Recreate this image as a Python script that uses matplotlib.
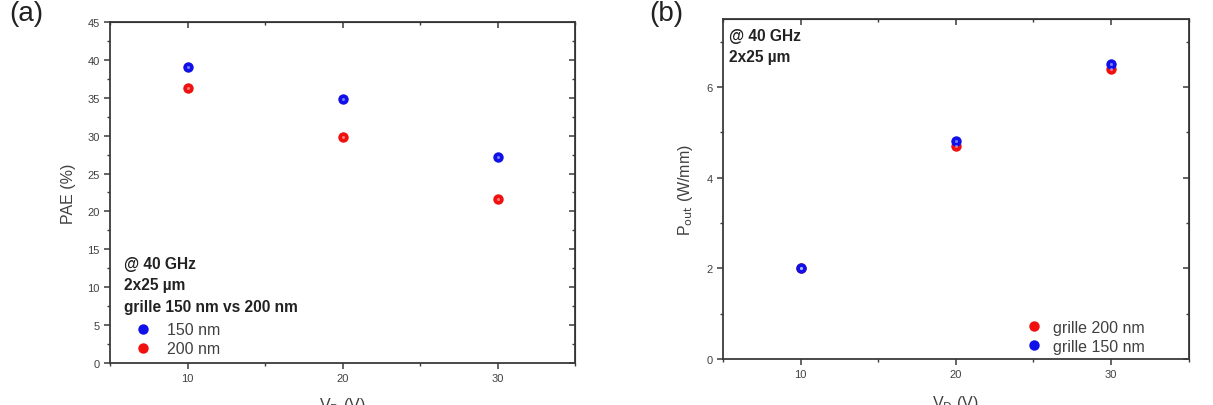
import matplotlib.pyplot as plt
from matplotlib.ticker import MultipleLocator

plt.rcParams['font.family'] = ['Liberation Sans', 'DejaVu Sans']

# donnees
vds = [10, 20, 30]
pae_150 = [39.1, 34.8, 27.2]
pae_200 = [36.3, 29.8, 21.6]
pout_200 = [2.0, 4.7, 6.4]
pout_150 = [2.0, 4.8, 6.5]

GREY = '#3a3a3a'
TXT = '#404040'


def sphere(ax, x, y, color, label=None):
    ax.plot(x, y, 'o', color=color, markersize=7.5, markeredgewidth=0, label=label, zorder=3)
    ax.plot(x, y, 'o', color='white', alpha=0.45, markersize=2.2, markeredgewidth=0, zorder=4)


def style(ax, ymax, ymaj, ymin):
    ax.set_xlim(5, 35)
    ax.set_ylim(0, ymax)
    ax.xaxis.set_major_locator(MultipleLocator(10))
    ax.xaxis.set_minor_locator(MultipleLocator(5))
    ax.yaxis.set_major_locator(MultipleLocator(ymaj))
    ax.yaxis.set_minor_locator(MultipleLocator(ymin))
    for s in ax.spines.values():
        s.set_color(GREY)
        s.set_linewidth(1.3)
    ax.tick_params(which='both', direction='out', colors=GREY, labelcolor=TXT, labelsize=8)
    ax.tick_params(which='major', length=4, width=1.1)
    ax.tick_params(which='minor', length=2.5, width=1.0)
    # ticks interieurs en haut et a droite (style Origin)
    top = ax.secondary_xaxis('top')
    top.xaxis.set_major_locator(MultipleLocator(10))
    top.xaxis.set_minor_locator(MultipleLocator(5))
    top.tick_params(which='both', direction='in', colors=GREY, labeltop=False)
    right = ax.secondary_yaxis('right')
    right.yaxis.set_major_locator(MultipleLocator(ymaj))
    right.yaxis.set_minor_locator(MultipleLocator(ymin))
    right.tick_params(which='both', direction='in', colors=GREY, labelright=False)
    for sec in (top, right):
        sec.tick_params(which='major', length=4, width=1.1)
        sec.tick_params(which='minor', length=2.5, width=1.0)


def legend(ax, x, y, pad):
    leg = ax.legend(loc='center left', bbox_to_anchor=(x, y), frameon=False, fontsize=11.5,
                    handletextpad=pad, handlelength=1.2, labelspacing=0.25,
                    borderaxespad=0, borderpad=0)
    for t in leg.get_texts():
        t.set_color(TXT)


fig = plt.figure(figsize=(12.13, 4.06), dpi=100)
ax1 = fig.add_axes([0.0907, 0.1034, 0.3834, 0.84])
ax2 = fig.add_axes([0.596, 0.1133, 0.384, 0.8374])

# (a) PAE
sphere(ax1, vds, pae_150, '#1010e8', '150 nm')
sphere(ax1, vds, pae_200, '#f01010', '200 nm')
style(ax1, 45, 5, 2.5)
ax1.set_ylabel('PAE (%)', color=TXT, fontsize=11.5, labelpad=8)
ax1.set_xlabel('V$_\\mathrm{D}$ (V)', color=TXT, fontsize=11.5)
ax1.xaxis.set_label_coords(0.5, -0.095)
ax1.text(0.03, 0.315, '@ 40 GHz\n2x25 µm\ngrille 150 nm vs 200 nm', transform=ax1.transAxes,
         fontsize=11.2, fontweight='bold', color='#222222', va='top', linespacing=1.55)
legend(ax1, 0.05, 0.07, 0.9)
fig.text(0.008, 0.998, '(a)', fontsize=20, va='top', color='#222222')

# (b) Pout
sphere(ax2, vds, pout_200, '#f01010', 'grille 200 nm')
sphere(ax2, vds, pout_150, '#1010e8', 'grille 150 nm')
style(ax2, 7.5, 2, 1)
ax2.set_ylabel('P$_\\mathrm{out}$ (W/mm)', color=TXT, fontsize=11.5, labelpad=8)
ax2.set_xlabel('V$_\\mathrm{D}$ (V)', color=TXT, fontsize=11.5)
ax2.xaxis.set_label_coords(0.5, -0.1)
ax2.text(0.013, 0.975, '@ 40 GHz\n2x25 µm', transform=ax2.transAxes,
         fontsize=11.2, fontweight='bold', color='#222222', va='top', linespacing=1.55)
legend(ax2, 0.647, 0.065, 0.6)
fig.text(0.535, 0.998, '(b)', fontsize=20, va='top', color='#222222')

fig.savefig('out.png', dpi=100)
